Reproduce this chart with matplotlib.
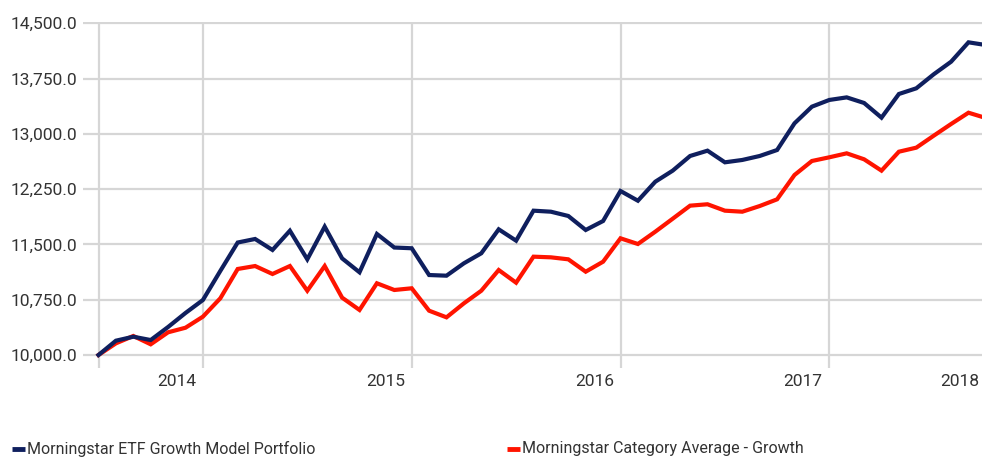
import matplotlib
matplotlib.use("Agg")
import matplotlib.pyplot as plt
from matplotlib.lines import Line2D
from matplotlib import font_manager, transforms

names = {f.name for f in font_manager.fontManager.ttflist}
fam = [n for n in ["Liberation Sans Narrow", "DejaVu Sans Condensed", "Roboto", "DejaVu Sans"] if n in names]
plt.rcParams['font.family'] = fam

# Monthly index: 0 = Jul 2013 ... 51
portfolio = [10000, 10194, 10248, 10203, 10380, 10570, 10746, 11140, 11526, 11574,
             11425, 11686, 11298, 11741, 11311, 11122, 11642, 11458, 11448, 11085,
             11076, 11244, 11380, 11705, 11551, 11958, 11944, 11886, 11696, 11818,
             12225, 12093, 12351, 12501, 12700, 12772, 12614, 12646, 12700, 12781,
             13143, 13369, 13460, 13495, 13419, 13220, 13541, 13618, 13808, 13979,
             14242, 14205]
category = [10000, 10158, 10258, 10145, 10308, 10370, 10520, 10769, 11167, 11207,
            11099, 11207, 10872, 11207, 10778, 10611, 10973, 10882, 10905, 10601,
            10511, 10701, 10872, 11153, 10981, 11334, 11325, 11298, 11130, 11266,
            11583, 11506, 11673, 11849, 12026, 12045, 11958, 11944, 12021, 12112,
            12442, 12632, 12682, 12736, 12655, 12501, 12758, 12813, 12975, 13134,
            13287, 13215]
series_names = ["Morningstar ETF Growth Model Portfolio", "Morningstar Category Average - Growth"]
year_labels = ["2014", "2015", "2016", "2017", "2018"]
year_label_pos = [4.5, 16.5, 28.5, 40.5, 49.5]
vgrid_pos = [0, 6, 18, 30, 42]
yticks = [10000, 10750, 11500, 12250, 13000, 13750, 14500]

navy = "#0f1f5e"
red = "#ff1400"
grid_c = "#d6d6d6"
text_c = "#333333"

W, H = 982, 458
fig = plt.figure(figsize=(W / 100, H / 100), dpi=100)
ax_l, ax_r, ax_t, ax_b = 83, 982, 22, 368
ax = fig.add_axes([ax_l / W, 1 - ax_b / H, (ax_r - ax_l) / W, (ax_b - ax_t) / H])

px_per_month = 17.4
x0_px = 98.5
ax.set_xlim(-(x0_px - ax_l) / px_per_month, (ax_r - x0_px) / px_per_month)
px_per_unit = (355 - 23.3) / 4500.0
ax.set_ylim(10000 - (ax_b - 355) / px_per_unit, 14500 + (23.3 - ax_t) / px_per_unit)

x = list(range(len(portfolio)))
for yv in yticks:
    ax.axhline(yv, color=grid_c, lw=1.6, zorder=1)
for xv in vgrid_pos:
    ax.axvline(xv, color=grid_c, lw=1.6, zorder=1)

ax.plot(x, category, color=red, lw=3.0, zorder=3, solid_joinstyle='miter')
ax.plot(x, portfolio, color=navy, lw=3.0, zorder=4, solid_joinstyle='miter')

for s in ax.spines.values():
    s.set_visible(False)
ax.set_xticks([])
ax.set_yticks(yticks)
ax.set_yticklabels([f"{v:,.1f}" for v in yticks])
ax.tick_params(axis='y', length=0, pad=4, labelsize=12.5, labelcolor=text_c)

blend = transforms.blended_transform_factory(ax.transData, fig.transFigure)
for lab, pos in zip(year_labels, year_label_pos):
    ax.text(pos, 1 - 381 / H, lab, ha='center', va='center', fontsize=12.5,
            color=text_c, transform=blend, clip_on=False)

# legend
ly = 1 - 449 / H
for (xm, col, name) in [(12, navy, series_names[0]), (507, red, series_names[1])]:
    fig.add_artist(Line2D([xm / W, (xm + 13) / W], [ly, ly], color=col, lw=3.5,
                          transform=fig.transFigure, solid_capstyle='butt'))
    fig.text((xm + 15) / W, ly, name, ha='left', va='center', fontsize=11.5, color=text_c)

fig.savefig("out.png", dpi=100)
